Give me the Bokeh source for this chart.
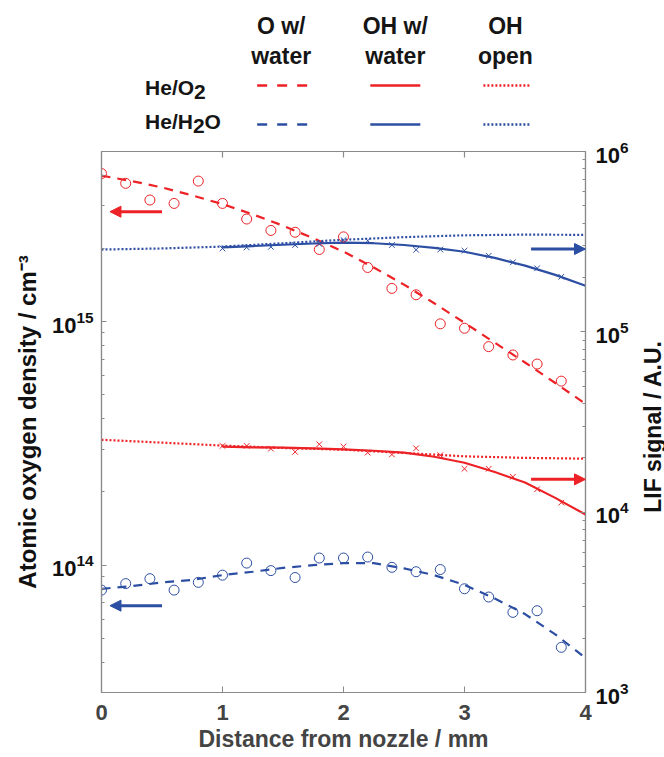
import math
from bokeh.plotting import figure
from bokeh.models import (Range1d, LogScale, LogAxis, FixedTicker, Arrow, NormalHead)
from bokeh.layouts import column, row
from bokeh.core.properties import value
from bokeh.embed import file_html
from bokeh.resources import INLINE

RED = "#ec2227"
BLUE = "#2c4ea3"
FONT = "Liberation Sans"
AXC = "#8a8a8a"

# ---------------- data ----------------
x_circles = [0.0, 0.2, 0.4, 0.6, 0.8, 1.0, 1.2, 1.4, 1.6, 1.8,
             2.0, 2.2, 2.4, 2.6, 2.8, 3.0, 3.2, 3.4, 3.6, 3.8]
o_he_o2 = [4.06e15, 3.70e15, 3.16e15, 3.06e15, 3.78e15, 3.06e15, 2.64e15, 2.37e15, 2.33e15, 1.98e15,
           2.23e15, 1.67e15, 1.37e15, 1.29e15, 9.8e14, 9.4e14, 7.9e14, 7.3e14, 6.7e14, 5.7e14]
o_he_h2o = [7.9e13, 8.4e13, 8.8e13, 7.9e13, 8.5e13, 9.1e13, 1.02e14, 9.5e13, 8.9e13, 1.07e14,
            1.07e14, 1.08e14, 9.8e13, 9.4e13, 9.6e13, 8.0e13, 7.4e13, 6.4e13, 6.5e13, 4.6e13]

x_cross = [1.0, 1.2, 1.4, 1.6, 1.8, 2.0, 2.2, 2.4, 2.6, 2.8, 3.0, 3.2, 3.4, 3.6, 3.8]
oh_he_o2 = [2.33e4, 2.33e4, 2.25e4, 2.16e4, 2.38e4, 2.31e4, 2.14e4, 2.09e4, 2.26e4, 2.07e4,
            1.74e4, 1.74e4, 1.57e4, 1.34e4, 1.13e4]
oh_he_h2o = [2.90e5, 2.94e5, 2.96e5, 3.03e5, 3.07e5, 3.23e5, 3.20e5, 3.03e5, 2.85e5, 2.86e5,
             2.82e5, 2.64e5, 2.43e5, 2.25e5, 2.02e5]

x_fit = [0.0, 0.25, 0.5, 0.75, 1.0, 1.25, 1.5, 1.75, 2.0, 2.25, 2.5, 2.75, 3.0, 3.25, 3.5, 3.75, 4.0]
o_fit_he_o2 = [3.98e15, 3.78e15, 3.56e15, 3.30e15, 3.04e15, 2.76e15, 2.48e15, 2.20e15, 1.94e15,
               1.67e15, 1.42e15, 1.19e15, 9.9e14, 8.2e14, 6.8e14, 5.6e14, 4.6e14]
o_fit_he_h2o = [8.0e13, 8.2e13, 8.5e13, 8.7e13, 9.1e13, 9.4e13, 9.75e13, 1.0e14, 1.02e14,
                1.02e14, 9.7e13, 9.1e13, 8.3e13, 7.3e13, 6.3e13, 5.2e13, 4.16e13]

x_fit_oh = [1.0, 1.25, 1.5, 1.75, 2.0, 2.25, 2.5, 2.75, 3.0, 3.25, 3.5, 3.75, 4.0]
oh_fit_he_o2 = [2.31e4, 2.29e4, 2.28e4, 2.26e4, 2.23e4, 2.19e4, 2.14e4, 2.03e4, 1.88e4,
                1.67e4, 1.46e4, 1.20e4, 9.7e3]
oh_fit_he_h2o = [2.94e5, 2.99e5, 3.04e5, 3.09e5, 3.12e5, 3.10e5, 3.03e5, 2.92e5, 2.78e5,
                 2.57e5, 2.33e5, 2.07e5, 1.80e5]

x_open = [0.0, 0.5, 1.0, 1.5, 2.0, 2.5, 3.0, 3.5, 4.0]
oh_open_he_o2 = [2.52e4, 2.43e4, 2.34e4, 2.27e4, 2.22e4, 2.13e4, 2.04e4, 2.00e4, 1.98e4]
oh_open_he_h2o = [2.86e5, 2.90e5, 2.97e5, 3.10e5, 3.24e5, 3.35e5, 3.43e5, 3.46e5, 3.45e5]

x_ticks = [0, 1, 2, 3, 4]
x_top_ticks = [1, 2, 3]
left_ticks = [1e14, 1e15]
left_minor = [m * 10.0 ** e for e in (13, 14, 15) for m in range(2, 10) if 3e13 <= m * 10.0 ** e <= 5e15]
right_ticks = [1e3, 1e4, 1e5, 1e6]
right_minor = [m * 10.0 ** e for e in (3, 4, 5) for m in range(2, 10)]

X_RANGE = (0, 4)
LEFT_RANGE = (3e13, 5e15)
RIGHT_RANGE = (1e3, 1e6)

# arrows: (x_start, x_end, y, axis, colour)
arrows = [(0.5, 0.07, 2.83e15, "default", RED),
          (0.5, 0.07, 6.82e13, "default", BLUE),
          (3.55, 4.0, 2.88e5, "lif", BLUE),
          (3.55, 4.0, 1.52e4, "lif", RED)]

MAIN_W = 636
STRIP_W = 664 - MAIN_W

# ---------------- legend figure (frame is aligned with main frame: page x 101.5..585) ----------------
LEG_H = 136
leg = figure(width=MAIN_W, height=LEG_H, x_range=Range1d(101.5, 585), y_range=Range1d(LEG_H, 0),
             output_backend="svg", toolbar_location=None, min_border=0,
             x_axis_location=None, y_axis_location=None, outline_line_color=None)
leg.grid.visible = False
leg.text(x=[281, 281, 395, 395, 505, 505], y=[25, 55, 25, 55, 25, 55],
         text=["O w/", "water", "OH w/", "water", "OH", "open"],
         text_align="center", text_baseline="alphabetic", text_font=value(FONT),
         text_font_style="bold", text_font_size="23px", text_color="#151515")
leg.text(x=[145, 194, 145, 193, 204.5], y=[87, 91, 121, 125, 121],
         text=["He/O", "2", "He/H", "2", "O"],
         text_align="left", text_baseline="alphabetic", text_font=value(FONT),
         text_font_style="bold", text_font_size="21px", text_color="#151515")
for yy, col in ((85, RED), (124, BLUE)):
    leg.line([257, 307], [yy, yy], line_color=col, line_width=2.5, line_dash="10 10")
    leg.line([370, 420], [yy, yy], line_color=col, line_width=2.5)
    leg.line([483, 530], [yy, yy], line_color=col, line_width=2.5, line_dash="2 2")

# ---------------- main figure ----------------
p = figure(width=MAIN_W, height=757 - LEG_H, y_axis_type="log",
           x_range=Range1d(*X_RANGE), y_range=Range1d(*LEFT_RANGE),
           output_backend="svg", toolbar_location=None,
           min_border_left=101, min_border_right=MAIN_W - 585, min_border_top=15, min_border_bottom=65)
p.extra_y_ranges = {"lif": Range1d(*RIGHT_RANGE)}
p.extra_y_scales = {"lif": LogScale()}
p.grid.visible = False
p.outline_line_color = AXC
p.outline_line_width = 1.2


def style_axis(ax, label_color="#111111"):
    ax.axis_line_color = AXC
    ax.axis_line_width = 1.2
    ax.major_tick_line_color = AXC
    ax.minor_tick_line_color = AXC
    ax.major_tick_out = 0
    ax.minor_tick_out = 0
    ax.major_tick_in = 5
    ax.minor_tick_in = 3
    ax.major_label_text_font = FONT
    ax.major_label_text_font_style = "bold"
    ax.major_label_text_font_size = "22px"
    ax.major_label_text_color = label_color
    ax.axis_label_text_font = FONT
    ax.axis_label_text_font_style = "bold"
    ax.axis_label_text_font_size = "23px"
    ax.axis_label_text_color = "#111111"


xa = p.xaxis[0]
xa.ticker = FixedTicker(ticks=x_ticks)
style_axis(xa, "#444444")
xa.major_tick_in = 6
xa.major_label_standoff = 12
xa.axis_label = "Distance from nozzle / mm"
xa.axis_label_text_color = "#444444"
xa.axis_label_standoff = 3

ya = p.yaxis[0]
ya.ticker = FixedTicker(ticks=left_ticks, minor_ticks=left_minor)
style_axis(ya)
ya.major_label_standoff = 8
ya.axis_label = "Atomic oxygen density / cm\u207b\u00b3"
ya.axis_label_text_font_size = "24px"
ya.axis_label_standoff = 8

ra = LogAxis(y_range_name="lif", ticker=FixedTicker(ticks=right_ticks, minor_ticks=right_minor))
style_axis(ra)
ra.major_label_standoff = 10
p.add_layout(ra, "right")

# inward tick marks on the top edge of the frame (half of each dash is clipped away)
p.scatter(x_top_ticks, [LEFT_RANGE[1]] * len(x_top_ticks), marker="dash", angle=math.pi / 2,
          size=12, line_color=AXC, line_width=1.2)

# fits / lines
p.line(x_fit, o_fit_he_o2, line_color=RED, line_width=2.2, line_dash="9 7")
p.line(x_fit, o_fit_he_h2o, line_color=BLUE, line_width=2.2, line_dash="9 7")
p.line(x_open, oh_open_he_o2, line_color=RED, line_width=2.2, line_dash="2 2", y_range_name="lif")
p.line(x_open, oh_open_he_h2o, line_color=BLUE, line_width=2.2, line_dash="2 2", y_range_name="lif")
p.line(x_fit_oh, oh_fit_he_o2, line_color=RED, line_width=2.2, y_range_name="lif")
p.line(x_fit_oh, oh_fit_he_h2o, line_color=BLUE, line_width=2.2, y_range_name="lif")

# markers
p.scatter(x_circles, o_he_o2, marker="circle", size=10, fill_color=None, line_color=RED, line_width=1)
p.scatter(x_circles, o_he_h2o, marker="circle", size=10, fill_color=None, line_color=BLUE, line_width=1)
p.scatter(x_cross, oh_he_o2, marker="x", size=8, line_color=RED, line_width=1, y_range_name="lif")
p.scatter(x_cross, oh_he_h2o, marker="x", size=8, line_color=BLUE, line_width=1, y_range_name="lif")

for xs, xe, yy, rng, col in arrows:
    kw = {} if rng == "default" else {"y_range_name": rng}
    p.add_layout(Arrow(end=NormalHead(size=11, fill_color=col, line_color=col),
                       x_start=xs, y_start=yy, x_end=xe, y_end=yy,
                       line_color=col, line_width=3, **kw))

# ---------------- right strip holding the right-axis title ----------------
rs = figure(width=STRIP_W, height=757, x_range=Range1d(MAIN_W, 664), y_range=Range1d(757, 0),
            output_backend="svg", toolbar_location=None, min_border=0,
            x_axis_location=None, y_axis_location=None, outline_line_color=None)
rs.grid.visible = False
rs.text(x=[652], y=[426], text=["LIF signal / A.U."], angle=math.pi / 2,
        text_align="center", text_baseline="middle", text_font=value(FONT),
        text_font_style="bold", text_font_size="23px", text_color="#111111")

layout = row(column(leg, p, spacing=0), rs, spacing=0)
open("out.html", "w").write(file_html(layout, INLINE))
